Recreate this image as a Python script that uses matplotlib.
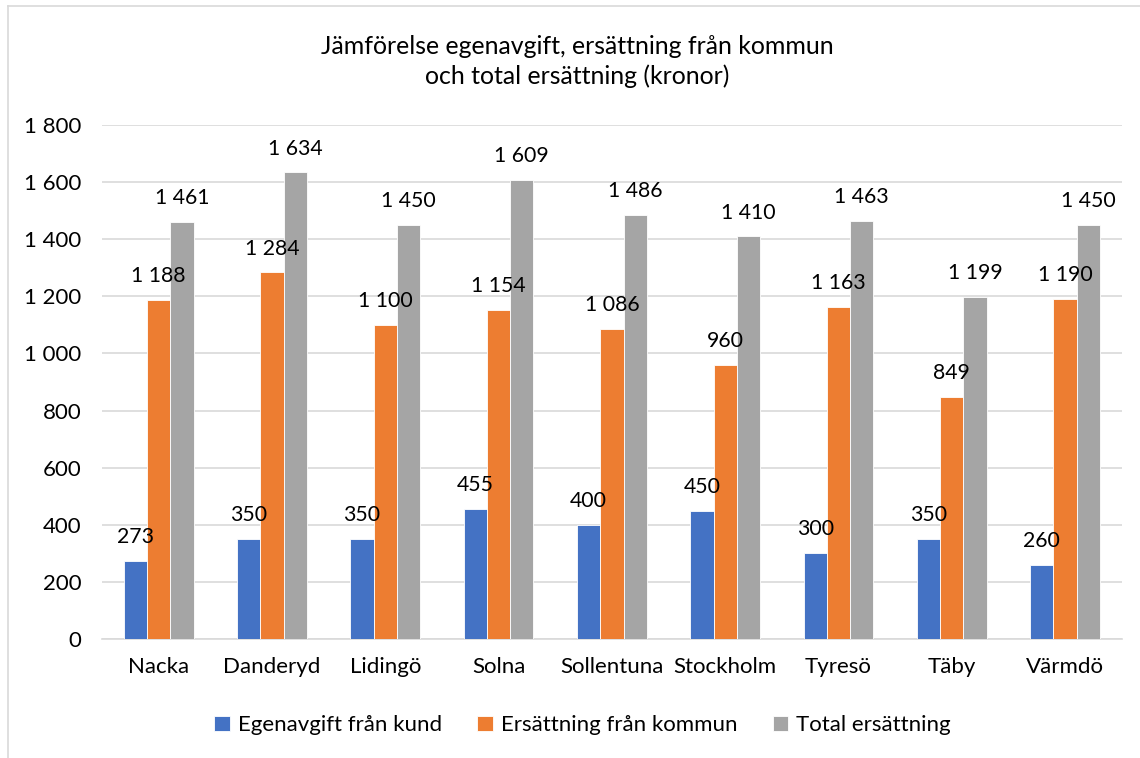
import matplotlib.pyplot as plt
import numpy as np
from matplotlib.lines import Line2D

kommuner = ['Nacka', 'Danderyd', 'Lidingö', 'Solna', 'Sollentuna',
            'Stockholm', 'Tyresö', 'Täby', 'Värmdö']
egenavgift = [273, 350, 350, 455, 400, 450, 300, 350, 260]
ersattning_kommun = [1188, 1284, 1100, 1154, 1086, 960, 1163, 849, 1190]
total = [1461, 1634, 1450, 1609, 1486, 1410, 1463, 1199, 1450]

serier = ['Egenavgift från kund', 'Ersättning från kommun', 'Total ersättning']
farger = ['#4472C4', '#ED7D31', '#A5A5A5']


def fmt(v):
    return f'{v:,.0f}'.replace(',', ' ')


def main():
    plt.rcParams['font.family'] = ['Lato', 'DejaVu Sans']
    fig = plt.figure(figsize=(11.4, 7.58), dpi=100)
    ax = fig.add_axes([0.0895, 0.157, 0.8945, 0.678])

    x = np.arange(len(kommuner))
    w = 0.205
    for i, (vals, c, namn) in enumerate(zip([egenavgift, ersattning_kommun, total], farger, serier)):
        pos = x + (i - 1) * w
        ax.bar(pos, vals, width=w, color=c, edgecolor='white', linewidth=0.6,
               label=namn, zorder=3)
        for p, v in zip(pos, vals):
            ax.annotate(fmt(v), (p, v), xytext=(0, 10), textcoords='offset points',
                        ha='center', va='bottom', fontsize=15.3, color='#000000',
                        zorder=6)

    ax.set_xlim(-0.5, len(kommuner) - 0.5)
    ax.set_ylim(0, 1800)
    ax.set_yticks(range(0, 1801, 200))
    ax.set_yticklabels([fmt(v) for v in range(0, 1801, 200)])
    ax.set_xticks(x)
    ax.set_xticklabels(kommuner)
    ax.tick_params(axis='both', length=0, labelsize=16, colors='#000000')
    ax.tick_params(axis='x', pad=13)
    ax.tick_params(axis='y', pad=15)
    ax.grid(axis='y', color='#D9D9D9', linewidth=1.2, zorder=0)
    for s in ['top', 'right', 'left']:
        ax.spines[s].set_visible(False)
    ax.spines['bottom'].set_color('#D9D9D9')
    ax.spines['bottom'].set_linewidth(1.2)

    fig.text(0.506, 0.919, 'Jämförelse egenavgift, ersättning från kommun\noch total ersättning (kronor)',
             ha='center', va='center', fontsize=17.9, linespacing=1.3, color='#000000')

    handles, labels = ax.get_legend_handles_labels()
    fig.legend(handles, labels, loc='center', bbox_to_anchor=(0.511, 0.043), ncol=3,
               frameon=False, fontsize=16, handlelength=0.7, handleheight=0.7,
               handletextpad=0.35, columnspacing=1.6)

    # chart border (left and top visible)
    fig.add_artist(Line2D([0.007, 0.007], [0.0, 0.992], color='#D9D9D9', linewidth=1.2))
    fig.add_artist(Line2D([0.007, 1.0], [0.992, 0.992], color='#D9D9D9', linewidth=1.2))

    fig.savefig('out.png', dpi=100)


if __name__ == '__main__':
    main()
